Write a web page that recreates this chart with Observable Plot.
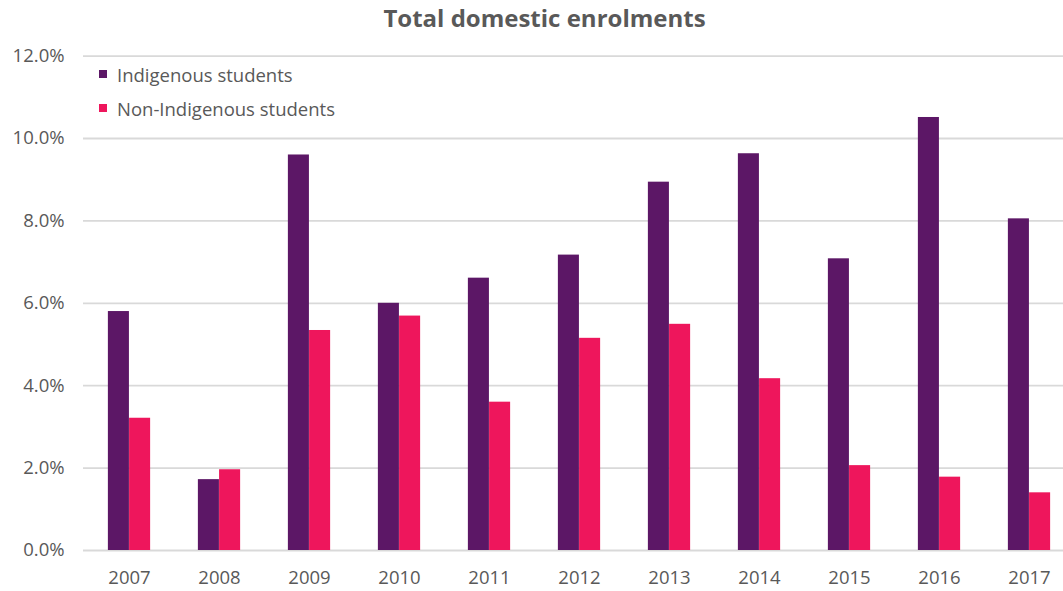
<!DOCTYPE html>
<html>
<head>
<meta charset="utf-8">
<script src="https://cdn.jsdelivr.net/npm/d3@7"></script>
<script src="https://cdn.jsdelivr.net/npm/@observablehq/plot@0.6"></script>
<style>
  html, body { margin: 0; padding: 0; background: #fff; }
  body { width: 1063px; height: 591px; overflow: hidden; position: relative; font-family: "Open Sans", sans-serif; color: #595959; }
  #title { height: 36px; line-height: 36px; text-align: center; font-weight: bold; font-size: 24px; color: #595959; padding-left: 26px; }
  #legend { position: absolute; left: 99px; top: 57px; font-size: 18.5px; color: #595959; }
  .item { display: flex; align-items: center; height: 34px; }
  .sw { width: 8px; height: 8px; margin-right: 10px; }
</style>
</head>
<body>
<div id="title">Total domestic enrolments</div>
<div id="chart"></div>
<div id="legend"></div>
<script>
const years = ["2007","2008","2009","2010","2011","2012","2013","2014","2015","2016","2017"];
const seriesNames = ["Indigenous students", "Non-Indigenous students"];
const seriesColors = ["#5c1766", "#ee165c"];
const indigenous = [0.0580, 0.0172, 0.0960, 0.0600, 0.0661, 0.0717, 0.0894, 0.0963, 0.0708, 0.1051, 0.0805];
const nonIndigenous = [0.0321, 0.0196, 0.0534, 0.0569, 0.0360, 0.0515, 0.0549, 0.0417, 0.0206, 0.0178, 0.0140];
const yTicks = [0, 0.02, 0.04, 0.06, 0.08, 0.10, 0.12];

const ind = years.map((y, i) => ({year: y, value: indigenous[i], series: seriesNames[0]}));
const non = years.map((y, i) => ({year: y, value: nonIndigenous[i], series: seriesNames[1]}));

const step = (1075 - 83.3) / years.length;
const half = 21.2;

const chart = Plot.plot({
  width: 1063,
  height: 555,
  marginTop: 19.6,
  marginBottom: 41,
  marginLeft: 83,
  marginRight: 0,
  style: {fontFamily: "Open Sans, sans-serif", fontSize: "18.5px", color: "#595959", background: "#fff"},
  x: {type: "band", domain: years, range: [83.3, 1075], padding: 0, label: null, tickSize: 0, tickPadding: 20},
  y: {domain: [0, 0.12], ticks: yTicks, tickFormat: d => (d * 100).toFixed(1) + "%", label: null, tickSize: 0, tickPadding: 19},
  color: {domain: seriesNames, range: seriesColors},
  marks: [
    Plot.ruleY(yTicks, {stroke: "#d9d9d9", strokeWidth: 1.8}),
    Plot.barY(ind, {x: "year", y: "value", fill: "series", insetLeft: step / 2 - half, insetRight: step / 2}),
    Plot.barY(non, {x: "year", y: "value", fill: "series", insetLeft: step / 2, insetRight: step / 2 - half})
  ]
});
document.getElementById("chart").appendChild(chart);

const legend = document.getElementById("legend");
seriesNames.forEach((n, i) => {
  const it = document.createElement("div");
  it.className = "item";
  const sw = document.createElement("span");
  sw.className = "sw";
  sw.style.background = seriesColors[i];
  const t = document.createElement("span");
  t.textContent = n;
  it.appendChild(sw); it.appendChild(t);
  legend.appendChild(it);
});
</script>
</body>
</html>
